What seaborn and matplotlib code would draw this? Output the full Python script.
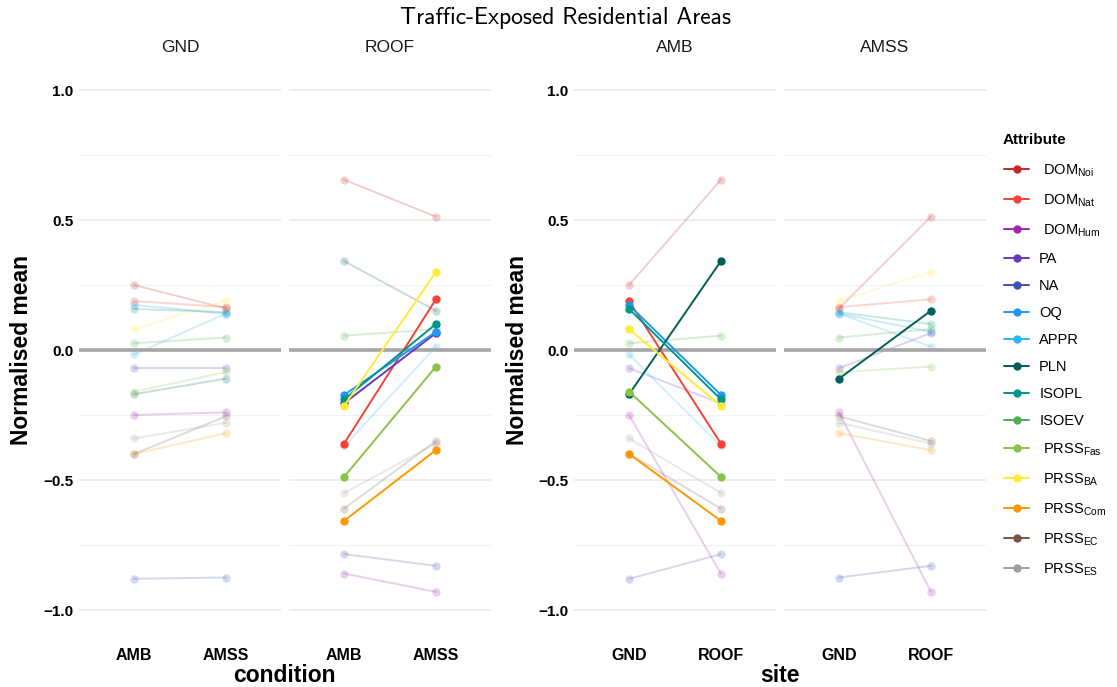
import numpy as np
import pandas as pd
import matplotlib
matplotlib.use("Agg")
import matplotlib.pyplot as plt
from matplotlib.lines import Line2D
from matplotlib.ticker import FixedLocator, FuncFormatter
import seaborn as sns

# ─── Data (normalised means) ─────────────────────────────────────────────────

attributes = ["DOM_Noi", "DOM_Nat", "DOM_Hum", "PA", "NA", "OQ", "APPR", "PLN",
              "ISOPL", "ISOEV", "PRSS_Fas", "PRSS_BA", "PRSS_Com", "PRSS_EC", "PRSS_ES"]
legend_labels = [" DOM$_{\\mathrm{Noi}}$", " DOM$_{\\mathrm{Nat}}$", " DOM$_{\\mathrm{Hum}}$",
                 "PA", "NA", "OQ", "APPR", "PLN", "ISOPL", "ISOEV",
                 " PRSS$_{\\mathrm{Fas}}$", " PRSS$_{\\mathrm{BA}}$", " PRSS$_{\\mathrm{Com}}$",
                 " PRSS$_{\\mathrm{EC}}$", " PRSS$_{\\mathrm{ES}}$"]
colors = ["#C62828", "#F44336", "#9C27B0", "#673AB7", "#3F51B5", "#2196F3", "#29B6F6",
          "#005F5A", "#009688", "#4CAF50", "#8BC34A", "#FFEB3B", "#FF9800", "#795548", "#9E9E9E"]

sites = ["GND", "ROOF"]
conditions = ["AMB", "AMSS"]

gnd_amb   = [0.250, 0.188, -0.250, -0.070, -0.880, 0.173, -0.017, -0.170,
             0.158, 0.026, -0.160, 0.080, -0.400, -0.400, -0.340]
gnd_amss  = [0.160, 0.165, -0.240, -0.070, -0.875, 0.140, 0.140, -0.110,
             0.145, 0.048, -0.085, 0.190, -0.320, -0.255, -0.280]
roof_amb  = [0.655, -0.360, -0.860, -0.205, -0.785, -0.173, -0.370, 0.342,
             -0.190, 0.055, -0.488, -0.215, -0.657, -0.610, -0.550]
roof_amss = [0.513, 0.195, -0.930, 0.065, -0.830, 0.070, 0.013, 0.151,
             0.100, 0.080, -0.064, 0.300, -0.385, -0.350, -0.360]

# attributes drawn at full opacity in each facet
hl_gnd  = []
hl_roof = ["DOM_Nat", "PA", "OQ", "ISOPL", "PRSS_Fas", "PRSS_BA", "PRSS_Com"]
hl_amb  = ["DOM_Nat", "OQ", "PLN", "ISOPL", "PRSS_Fas", "PRSS_BA", "PRSS_Com"]
hl_amss = ["PLN"]

# ─── Long table ──────────────────────────────────────────────────────────────

rows = []
for (site, cond), vals in {("GND", "AMB"): gnd_amb, ("GND", "AMSS"): gnd_amss,
                           ("ROOF", "AMB"): roof_amb, ("ROOF", "AMSS"): roof_amss}.items():
    for a, v in zip(attributes, vals):
        rows.append({"Attribute": a, "site": site, "condition": cond, "value": v})
df = pd.DataFrame(rows)
df["cx"] = df["condition"].map({c: i for i, c in enumerate(conditions)})
df["sx"] = df["site"].map({s: i for i, s in enumerate(sites)})

palette = dict(zip(attributes, colors))

# ─── Style ───────────────────────────────────────────────────────────────────

sns.set_theme(style="white")
plt.rcParams["font.family"] = ["Liberation Sans", "DejaVu Sans"]
plt.rcParams["mathtext.fontset"] = "custom"
plt.rcParams["mathtext.rm"] = "Liberation Sans"
plt.rcParams["axes.unicode_minus"] = True
plt.rcParams["text.color"] = "black"
plt.rcParams["xtick.color"] = "black"
plt.rcParams["ytick.color"] = "black"

W, H = 1117, 687
fig = plt.figure(figsize=(W / 100, H / 100), dpi=100)

bottom = 51 / H
height = 572 / H
width = 202 / W


def draw_panel(ax, sub, xcol, ticklabels, hl, strip, show_y):
    faded = sub[~sub["Attribute"].isin(hl)]
    strong = sub[sub["Attribute"].isin(hl)]
    kw = dict(x=xcol, y="value", hue="Attribute", palette=palette, marker="o",
              markersize=6, markeredgewidth=0, linewidth=1.4, legend=False,
              errorbar=None, ax=ax)
    sns.lineplot(data=faded, alpha=0.22, zorder=1, **kw)
    ax.axhline(0, color="#A6A6A6", linewidth=2.6, zorder=2)
    if len(strong):
        sns.lineplot(data=strong, alpha=1.0, zorder=3, **kw)

    ax.set_xlim(-0.6, 1.6)
    ax.set_ylim(-1.1, 1.1)
    ax.set_xticks(range(len(ticklabels)))
    ax.set_xticklabels(ticklabels, fontsize=11.5, fontweight="bold", color="black")
    ax.yaxis.set_major_locator(FixedLocator([-1.0, -0.5, 0.0, 0.5, 1.0]))
    ax.yaxis.set_minor_locator(FixedLocator([-0.75, -0.25, 0.25, 0.75]))
    ax.yaxis.set_major_formatter(FuncFormatter(lambda v, p: f"{v:.1f}".replace("-", "\u2212")))
    ax.grid(axis="y", which="major", color="#EBEBEB", linewidth=1.2)
    ax.grid(axis="y", which="minor", color="#F2F2F2", linewidth=0.8)
    ax.grid(axis="x", visible=False)
    ax.tick_params(axis="both", which="both", length=0)
    ax.tick_params(axis="x", pad=9)
    ax.tick_params(axis="y", pad=4, labelsize=11)
    for lab in ax.get_yticklabels():
        lab.set_fontweight("bold")
        lab.set_color("black")
    if not show_y:
        ax.set_yticklabels([])
    ax.set_xlabel("")
    ax.set_ylabel("")
    for s in ax.spines.values():
        s.set_visible(False)
    ax.set_facecolor("none")
    ax.text(0.5, 1 + 17 / 572, strip, transform=ax.transAxes, ha="center", va="center",
            fontsize=12.5, color="#1A1A1A")


# left group: facet by site, x = condition
for i, (site, hl) in enumerate([("GND", hl_gnd), ("ROOF", hl_roof)]):
    ax = fig.add_axes([(79 + i * 210) / W, bottom, width, height])
    draw_panel(ax, df[df["site"] == site], "cx", conditions, hl, site, i == 0)

# right group: facet by condition, x = site
for i, (cond, hl) in enumerate([("AMB", hl_amb), ("AMSS", hl_amss)]):
    ax = fig.add_axes([(574 + i * 210) / W, bottom, width, height])
    draw_panel(ax, df[df["condition"] == cond], "sx", sites, hl, cond, i == 0)

# axis titles
fig.text(284 / W, 1 - 675 / H, "condition", ha="center", va="center",
         fontsize=16.5, fontweight="bold")
fig.text(780 / W, 1 - 675 / H, "site", ha="center", va="center",
         fontsize=16.5, fontweight="bold")
fig.text(22 / W, 1 - 350 / H, "Normalised mean", ha="center", va="center",
         rotation=90, fontsize=16.5, fontweight="bold")
fig.text(517 / W, 1 - 350 / H, "Normalised mean", ha="center", va="center",
         rotation=90, fontsize=16.5, fontweight="bold")

fig.text(565 / W, 1 - 18 / H, "Traffic-Exposed Residential Areas", ha="center",
         va="center", fontsize=17, family="cmss10")

# legend (title placed separately to match the gap above the first key)
fig.text(1003 / W, 1 - 140 / H, "Attribute", ha="left", va="center",
         fontsize=11, fontweight="bold")
handles = [Line2D([0], [0], color=c, marker="o", markersize=6, markeredgewidth=0,
                  linewidth=1.4) for c in colors]
fig.legend(handles, legend_labels, loc="upper left",
           bbox_to_anchor=(994 / W, 1 - 152 / H), frameon=False, fontsize=10.5,
           handlelength=1.7, handletextpad=0.7, labelspacing=0.9,
           borderaxespad=0.3)

fig.savefig("out.png", dpi=100)
